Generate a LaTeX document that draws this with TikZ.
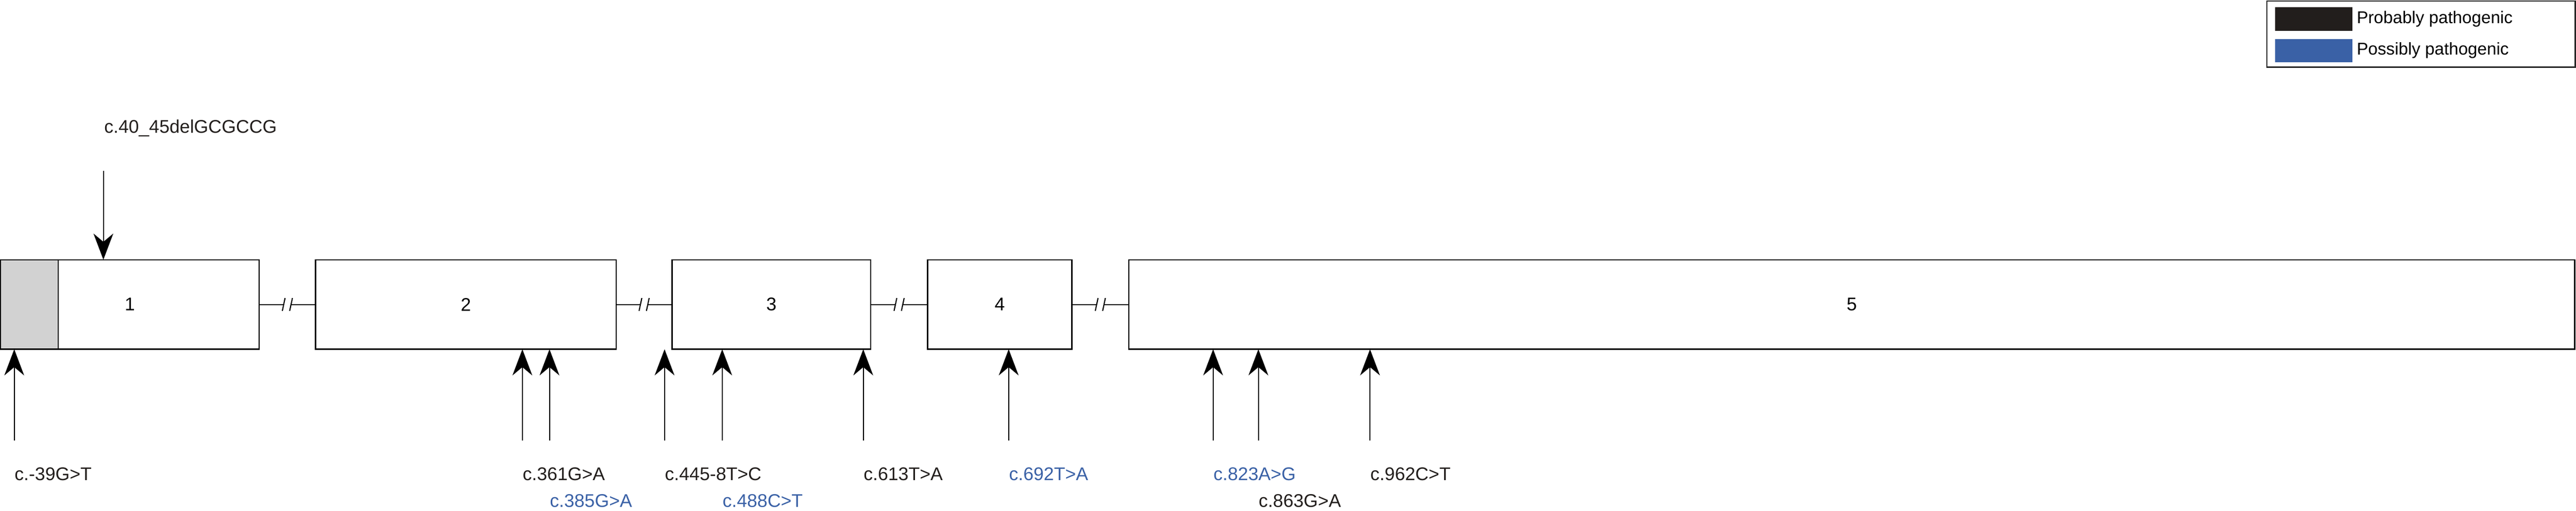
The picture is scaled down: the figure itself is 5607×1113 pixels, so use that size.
\documentclass[tikz,border=0pt]{standalone}
\usepackage{fontspec}
\setmainfont{Liberation Sans}
\usetikzlibrary{arrows.meta,calc}
\definecolor{pblue}{HTML}{3A61A6}
\definecolor{pblack}{HTML}{221E1C}
\definecolor{ugray}{HTML}{D2D2D2}
\begin{document}
\begin{tikzpicture}[x=0.25pt,y=-0.25pt,
  exon/.style={draw=black,line width=0.65pt,minimum height=48.75pt,inner sep=0pt,outer sep=0pt,font=\fontsize{10}{12}\selectfont},
  mut/.style={line width=0.55pt,-{Stealth[length=14.25pt,width=10.75pt,inset=4.5pt]}},
  intron/.style={line width=0.55pt},
  slashmark/.style={line width=0.6pt},
  lab/.style={anchor=base west,inner sep=0pt,font=\fontsize{10}{12}\selectfont,text=pblack},
  plab/.style={lab,text=pblue},
  legtext/.style={anchor=base west,inner sep=0pt,font=\fontsize{9.3}{11}\selectfont,text=black}]
\useasboundingbox (0,0) rectangle (5607,1113);

% exons
\node[exon,minimum width=140.75pt] (e1) at (282.5,663.5) {};
\node[exon,fill=ugray,minimum width=31.375pt,anchor=north west] (utr) at (e1.north west) {};
\node[font=\fontsize{10}{12}\selectfont,inner sep=0pt] (n1) at (e1.center) {1};
\node[exon,minimum width=163.5pt] (e2) at (1014,663.5) {2};
\node[exon,minimum width=108pt] (e3) at (1679,663.5) {3};
\node[exon,minimum width=78.5pt] (e4) at (2176,663.5) {4};
\node[exon,minimum width=786.75pt] (e5) at (4030.5,663.5) {5};

% introns with break marks
\foreach \a/\b/\m in {e1/e2/m1,e2/e3/m2,e3/e4/m3,e4/e5/m4}{
  \coordinate (\m) at ($(\a.east)!0.5!(\b.west)$);
  \draw[intron] (\a.east) -- ([xshift=-2pt]\m);
  \draw[intron] ([xshift=2pt]\m) -- (\b.west);
  \draw[slashmark] ([xshift=-2.75pt,yshift=-3.5pt]\m) -- ([xshift=-1.25pt,yshift=3.5pt]\m);
  \draw[slashmark] ([xshift=1.25pt,yshift=-3.5pt]\m) -- ([xshift=2.75pt,yshift=3.5pt]\m);
}

% top mutation
\coordinate (p0) at (225,372);
\draw[mut] (p0) -- (p0 |- e1.north);
\node[lab] (l0) at (226,290) {c.40\_45delGCGCCG};

% bottom mutations
\coordinate (p1) at (31,960);
\coordinate (p2) at (1137,960);
\coordinate (p3) at (1196,960);
\coordinate (p4) at (1446.5,960);
\coordinate (p5) at (1572,960);
\coordinate (p6) at (1879,960);
\coordinate (p7) at (2195.5,960);
\coordinate (p8) at (2640.5,960);
\coordinate (p9) at (2739,960);
\coordinate (p10) at (2982,960);
\draw[mut] (p1) -- (p1 |- e1.south);
\draw[mut] (p2) -- (p2 |- e2.south);
\draw[mut] (p3) -- (p3 |- e2.south);
\draw[mut] (p4) -- (p4 |- e3.south);
\draw[mut] (p5) -- (p5 |- e3.south);
\draw[mut] (p6) -- (p6 |- e3.south);
\draw[mut] (p7) -- (p7 |- e4.south);
\draw[mut] (p8) -- (p8 |- e5.south);
\draw[mut] (p9) -- (p9 |- e5.south);
\draw[mut] (p10) -- (p10 |- e5.south);

\node[lab]  (l1) at (31,1047) {c.-39G>T};
\node[lab]  (l2) at (1137,1047) {c.361G>A};
\node[plab] (l3) at (1196,1105.5) {c.385G>A};
\node[lab]  (l4) at (1446.5,1047) {c.445-8T>C};
\node[plab] (l5) at (1572,1105.5) {c.488C>T};
\node[lab]  (l6) at (1879,1047) {c.613T>A};
\node[plab] (l7) at (2195.5,1047) {c.692T>A};
\node[plab] (l8) at (2640.5,1047) {c.823A>G};
\node[lab]  (l9) at (2739,1105.5) {c.863G>A};
\node[lab]  (l10) at (2982,1047) {c.962C>T};

% legend
\node[draw=black!85,line width=0.7pt,minimum width=167.75pt,minimum height=36.1pt,inner sep=0pt] (leg) at (5269.5,74.25) {};
\node[fill=pblack,minimum width=42pt,minimum height=13pt,inner sep=0pt,anchor=north west] (sw1) at (4951,15) {};
\node[fill=pblue,minimum width=42pt,minimum height=12.75pt,inner sep=0pt,anchor=north west] (sw2) at (4951,84) {};
\node[legtext] (t1) at (5129,50.5) {Probably pathogenic};
\node[legtext] (t2) at (5129,119.5) {Possibly pathogenic};
\end{tikzpicture}
\end{document}
